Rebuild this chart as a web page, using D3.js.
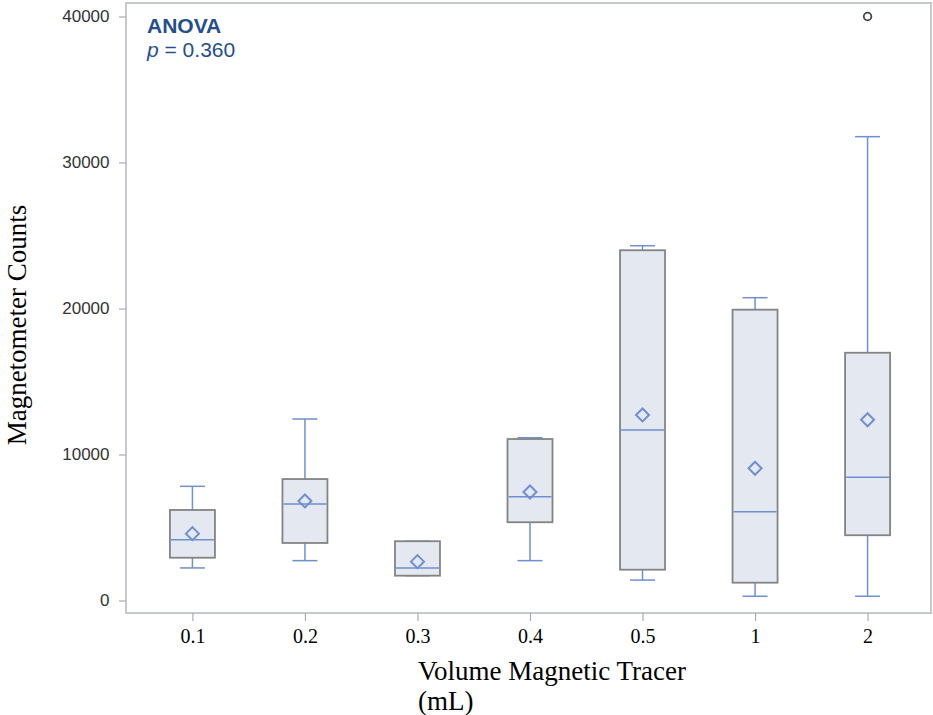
<!DOCTYPE html>
<html>
<head>
<meta charset="utf-8">
<style>
  body { margin: 0; background: #fff; }
  svg { display: block; }
</style>
</head>
<body>
<div id="chart"></div>
<script src="https://cdnjs.cloudflare.com/ajax/libs/d3/7.8.5/d3.min.js"></script>
<script>
  // values
  const categories = ["0.1", "0.2", "0.3", "0.4", "0.5", "1", "2"];
  const minV  = [2230, 2730, 1700, 2730, 1400, 290, 290];
  const q1V   = [2930, 3940, 1700, 5360, 2110, 1220, 4470];
  const medV  = [4160, 6610, 2230, 7110, 11680, 6080, 8440];
  const q3V   = [6200, 8320, 4060, 11060, 23990, 19920, 16970];
  const maxV  = [7820, 12430, 4060, 11150, 24300, 20740, 31770];
  const meanV = [4580, 6820, 2660, 7430, 12710, 9060, 12380];
  const outlierCats = ["2"];
  const outlierVals = [40000];
  const yTicks = [0, 10000, 20000, 30000, 40000];

  const W = 933, H = 715;
  const plotL = 126, plotR = 931, plotT = 3, plotB = 613;

  const svg = d3.select("#chart").append("svg")
    .attr("width", W).attr("height", H);

  const x = d3.scalePoint()
    .domain(categories)
    .range([127.5, 932.5])
    .padding(0.577);

  const y = d3.scaleLinear()
    .domain([0, 40000])
    .range([600.5, 16.5]);

  const blue = "#6f8fd0";
  const boxW = 45, capW = 25;

  // frame
  svg.append("rect")
    .attr("x", plotL).attr("y", plotT)
    .attr("width", plotR - plotL).attr("height", plotB - plotT)
    .attr("fill", "none")
    .attr("stroke", "#b4b8bd")
    .attr("stroke-width", 1.5);

  // y axis
  const yAxis = svg.append("g")
    .attr("transform", "translate(" + plotL + ",0)")
    .call(d3.axisLeft(y).tickValues(yTicks).tickSize(7).tickPadding(9.5).tickSizeOuter(0).tickFormat(d3.format("d")));
  yAxis.select(".domain").remove();
  yAxis.selectAll("line").attr("stroke", "#a8acb2").attr("stroke-width", 1.2);
  yAxis.selectAll("text")
    .attr("fill", "#333")
    .style("font-family", "'Liberation Sans', Arial, sans-serif")
    .style("font-size", "17px");

  // x axis
  const xAxis = svg.append("g")
    .attr("transform", "translate(0," + plotB + ")")
    .call(d3.axisBottom(x).tickSize(8).tickPadding(8).tickSizeOuter(0));
  xAxis.select(".domain").remove();
  xAxis.selectAll("line").attr("stroke", "#a8acb2").attr("stroke-width", 1.2);
  xAxis.selectAll("text")
    .attr("fill", "#000")
    .style("font-family", "'Liberation Serif', 'Times New Roman', serif")
    .style("font-size", "20px");

  const rows = categories.map((c, i) => ({
    cat: c, min: minV[i], q1: q1V[i], med: medV[i], q3: q3V[i], max: maxV[i], mean: meanV[i]
  }));

  const g = svg.append("g");

  // whiskers
  g.selectAll(".whisk-up")
    .data(rows).enter().append("line")
    .attr("x1", d => x(d.cat)).attr("x2", d => x(d.cat))
    .attr("y1", d => y(d.q3)).attr("y2", d => y(d.max))
    .attr("stroke", blue).attr("stroke-width", 1.5);
  g.selectAll(".whisk-down")
    .data(rows).enter().append("line")
    .attr("x1", d => x(d.cat)).attr("x2", d => x(d.cat))
    .attr("y1", d => y(d.q1)).attr("y2", d => y(d.min))
    .attr("stroke", blue).attr("stroke-width", 1.5);
  g.selectAll(".cap-up")
    .data(rows).enter().append("line")
    .attr("x1", d => x(d.cat) - capW / 2).attr("x2", d => x(d.cat) + capW / 2)
    .attr("y1", d => y(d.max)).attr("y2", d => y(d.max))
    .attr("stroke", blue).attr("stroke-width", 1.5);
  g.selectAll(".cap-down")
    .data(rows).enter().append("line")
    .attr("x1", d => x(d.cat) - capW / 2).attr("x2", d => x(d.cat) + capW / 2)
    .attr("y1", d => y(d.min)).attr("y2", d => y(d.min))
    .attr("stroke", blue).attr("stroke-width", 1.5);

  // boxes
  g.selectAll(".box")
    .data(rows).enter().append("rect")
    .attr("x", d => x(d.cat) - boxW / 2)
    .attr("y", d => y(d.q3))
    .attr("width", boxW)
    .attr("height", d => y(d.q1) - y(d.q3))
    .attr("fill", "#e3e8f1")
    .attr("stroke", "#838383")
    .attr("stroke-width", 1.8);

  // medians
  g.selectAll(".median")
    .data(rows).enter().append("line")
    .attr("x1", d => x(d.cat) - boxW / 2 + 1).attr("x2", d => x(d.cat) + boxW / 2 - 1)
    .attr("y1", d => y(d.med)).attr("y2", d => y(d.med))
    .attr("stroke", blue).attr("stroke-width", 1.5);

  // means (diamonds)
  g.selectAll(".mean")
    .data(rows).enter().append("path")
    .attr("d", d => {
      const cx = x(d.cat), cy = y(d.mean), r = 6.5;
      return "M" + cx + "," + (cy - r) + "L" + (cx + r) + "," + cy + "L" + cx + "," + (cy + r) + "L" + (cx - r) + "," + cy + "Z";
    })
    .attr("fill", "none")
    .attr("stroke", blue)
    .attr("stroke-width", 2);

  // outliers
  g.selectAll(".outlier")
    .data(outlierCats.map((c, i) => ({ cat: c, v: outlierVals[i] }))).enter().append("circle")
    .attr("cx", d => x(d.cat)).attr("cy", d => y(d.v))
    .attr("r", 3.8)
    .attr("fill", "none")
    .attr("stroke", "#444")
    .attr("stroke-width", 1.8);

  // annotation
  svg.append("text")
    .attr("x", 147).attr("y", 33)
    .attr("fill", "#244f8c")
    .style("font-family", "'Liberation Sans', Arial, sans-serif")
    .style("font-size", "21px")
    .style("font-weight", "bold")
    .text("ANOVA");
  const p = svg.append("text")
    .attr("x", 147).attr("y", 56.5)
    .attr("fill", "#244f8c")
    .style("font-family", "'Liberation Sans', Arial, sans-serif")
    .style("font-size", "21px");
  p.append("tspan").style("font-style", "italic").text("p");
  p.append("tspan").text(" = 0.360");

  // axis titles
  const xt = svg.append("text")
    .attr("x", 418).attr("y", 680)
    .attr("fill", "#000")
    .style("font-family", "'Liberation Serif', 'Times New Roman', serif")
    .style("font-size", "27px");
  xt.append("tspan").attr("x", 418).text("Volume Magnetic Tracer");
  xt.append("tspan").attr("x", 418).attr("dy", 30).text("(mL)");

  svg.append("text")
    .attr("transform", "translate(26,325) rotate(-90)")
    .attr("text-anchor", "middle")
    .attr("fill", "#000")
    .style("font-family", "'Liberation Serif', 'Times New Roman', serif")
    .style("font-size", "27px")
    .text("Magnetometer Counts");
</script>
</body>
</html>
